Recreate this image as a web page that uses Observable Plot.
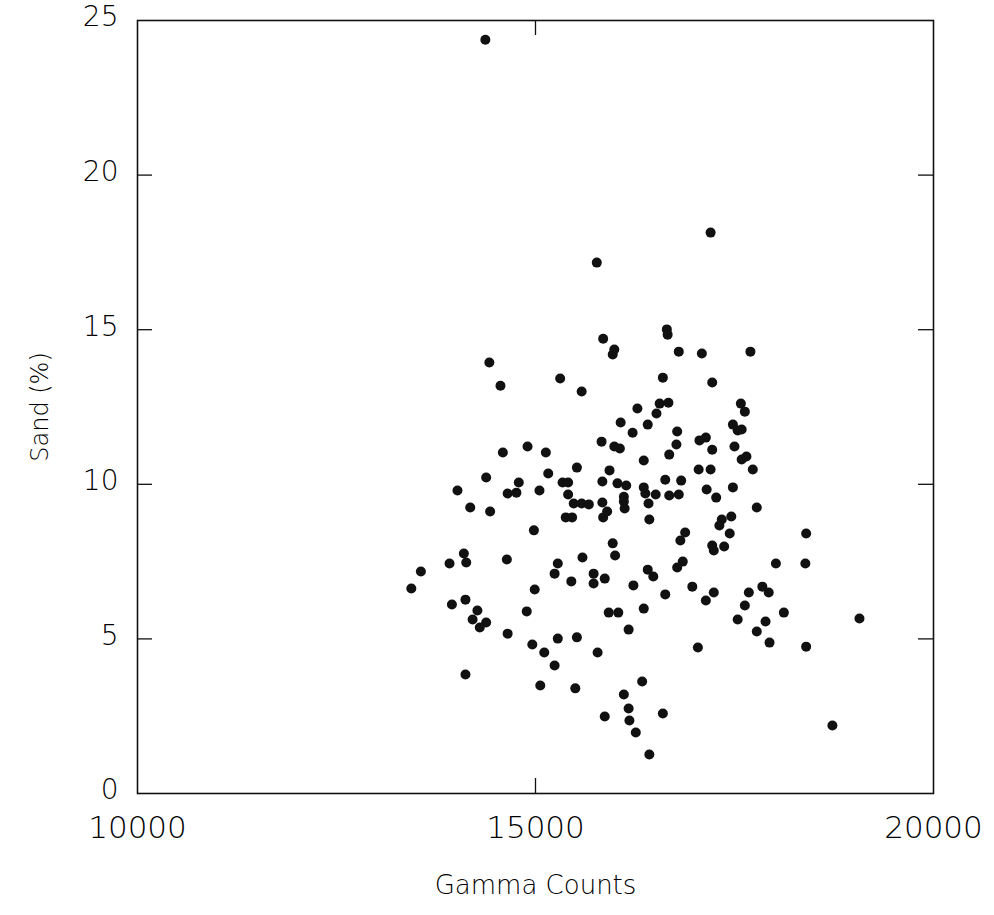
<!DOCTYPE html>
<html>
<head>
<meta charset="utf-8">
<script src="https://cdn.jsdelivr.net/npm/d3@7"></script>
<script src="https://cdn.jsdelivr.net/npm/@observablehq/plot@0.6"></script>
<style>
  html, body { margin: 0; padding: 0; background: #fff; }
  #chart svg { display: block; }
</style>
</head>
<body>
<div id="chart"></div>
<script>
// Gamma counts (x) and sand percentage (y)
const gamma = [
  14370,17200,15770,16650,16660,15850,15990,15970,16800,17090,
  17700,14420,15310,16600,17220,14560,15580,16280,16560,16670,
  17580,16520,17630,16070,16410,17480,16220,16780,17540,17590,
  15830,16770,15990,16060,17060,17140,17220,17500,14590,14900,
  15130,16680,16360,17590,17650,15520,15930,17050,17200,17730,
  14380,15160,15340,15410,15840,16030,16140,16360,16630,16830,
  17150,17480,14790,14020,14650,14760,15050,15410,16380,16510,
  16680,16800,16110,16110,17270,15480,15580,15670,15840,16420,
  14180,14430,15900,16120,17780,15380,15460,15850,16430,17460,
  17340,17310,14980,16880,16820,17440,18400,17220,17240,17370,
  15970,14100,16000,15590,13920,14130,14640,15280,16850,18020,
  18390,16780,16410,13560,15240,15730,16480,15870,15450,15730,
  16230,13440,14990,16970,17850,17240,17680,17930,16630,14120,
  13950,17140,17630,14270,14890,15920,16040,16360,18120,14210,
  14380,17540,17890,19070,14300,16170,17780,14650,15280,15520,
  17940,14960,17040,18400,15780,15110,15240,14120,16340,15060,
  15500,16110,16170,16600,15870,16180,18730,16260,16430
];
const sand = [
  24.38,18.14,17.17,15.01,14.84,14.71,14.36,14.20,14.29,14.23,
  14.29,13.94,13.42,13.45,13.29,13.19,13.00,12.45,12.61,12.64,
  12.61,12.29,12.35,12.00,11.93,11.93,11.67,11.71,11.74,11.77,
  11.38,11.29,11.22,11.16,11.42,11.51,11.12,11.22,11.03,11.22,
  11.03,10.96,10.77,10.80,10.90,10.54,10.45,10.48,10.48,10.48,
  10.22,10.35,10.06,10.06,10.09,10.03,9.96,9.90,10.15,10.12,
  9.83,9.90,10.06,9.80,9.70,9.73,9.80,9.67,9.70,9.67,
  9.64,9.67,9.60,9.44,9.57,9.38,9.38,9.35,9.41,9.38,
  9.25,9.12,9.12,9.22,9.25,8.93,8.93,8.93,8.86,8.96,
  8.86,8.67,8.51,8.44,8.18,8.41,8.41,8.02,7.86,7.99,
  8.09,7.76,7.70,7.63,7.44,7.47,7.57,7.44,7.50,7.44,
  7.44,7.31,7.24,7.18,7.11,7.11,7.02,6.95,6.86,6.79,
  6.73,6.63,6.60,6.69,6.69,6.50,6.50,6.50,6.44,6.27,
  6.11,6.24,6.08,5.92,5.89,5.85,5.85,5.98,5.85,5.63,
  5.53,5.63,5.56,5.66,5.37,5.30,5.24,5.17,5.01,5.05,
  4.88,4.82,4.72,4.75,4.56,4.56,4.14,3.85,3.62,3.49,
  3.40,3.20,2.75,2.59,2.49,2.36,2.20,1.97,1.26
];
const xDomain = [10000, 20000];
const yDomain = [0, 25];
const xTickLabels = [10000, 15000, 20000];
const yTickLabels = [0, 5, 10, 15, 20, 25];
const xInnerTicks = [15000];
const yInnerTicks = [5, 10, 15, 20];
const xTitle = "Gamma Counts";
const yTitle = "Sand (%)";

const points = gamma.map((g, i) => ({gamma: g, sand: sand[i]}));

const W = 994, H = 915;
const mL = 137, mR = 61, mT = 20, mB = 122;
const innerW = W - mL - mR, innerH = H - mT - mB;
const tickLen = 15;
const font = "'DejaVu Sans', sans-serif";

const chart = Plot.plot({
  width: W,
  height: H,
  marginLeft: mL,
  marginRight: mR,
  marginTop: mT,
  marginBottom: mB,
  style: {fontFamily: font, background: "#fff", color: "#000"},
  x: {domain: xDomain},
  y: {domain: yDomain},
  marks: [
    Plot.axisX({ticks: xTickLabels, tickSize: 0, tickPadding: 22, fontSize: 31,
      fontWeight: 200, fill: "#000", tickFormat: d => String(d), label: null}),
    Plot.axisY({ticks: yTickLabels, tickSize: 0, tickPadding: 19, fontSize: 28, dy: -3,
      fontWeight: 200, fill: "#000", tickFormat: d => String(d), label: null}),
    // inner tick marks (bottom/top)
    Plot.ruleX(xInnerTicks, {x: d => d, insetTop: innerH - tickLen, stroke: "#111", strokeWidth: 1.3}),
    Plot.ruleX(xInnerTicks, {x: d => d, insetBottom: innerH - tickLen, stroke: "#111", strokeWidth: 1.3}),
    // inner tick marks (left/right)
    Plot.ruleY(yInnerTicks, {y: d => d, insetRight: innerW - tickLen, stroke: "#111", strokeWidth: 1.3}),
    Plot.ruleY(yInnerTicks, {y: d => d, insetLeft: innerW - tickLen, stroke: "#111", strokeWidth: 1.3}),
    Plot.frame({stroke: "#111", strokeWidth: 1.6}),
    Plot.dot(points, {x: "gamma", y: "sand", r: 5, fill: "#111", stroke: "none"}),
    Plot.text([xTitle], {frameAnchor: "bottom", dy: 100, fontSize: 26, fontWeight: 200,
      fill: "#000", text: d => d}),
    Plot.text([yTitle], {frameAnchor: "left", dx: -97, rotate: -90, textAnchor: "middle",
      fontSize: 24, fontWeight: 200, fill: "#000", text: d => d})
  ]
});
document.getElementById("chart").appendChild(chart);
</script>
</body>
</html>
